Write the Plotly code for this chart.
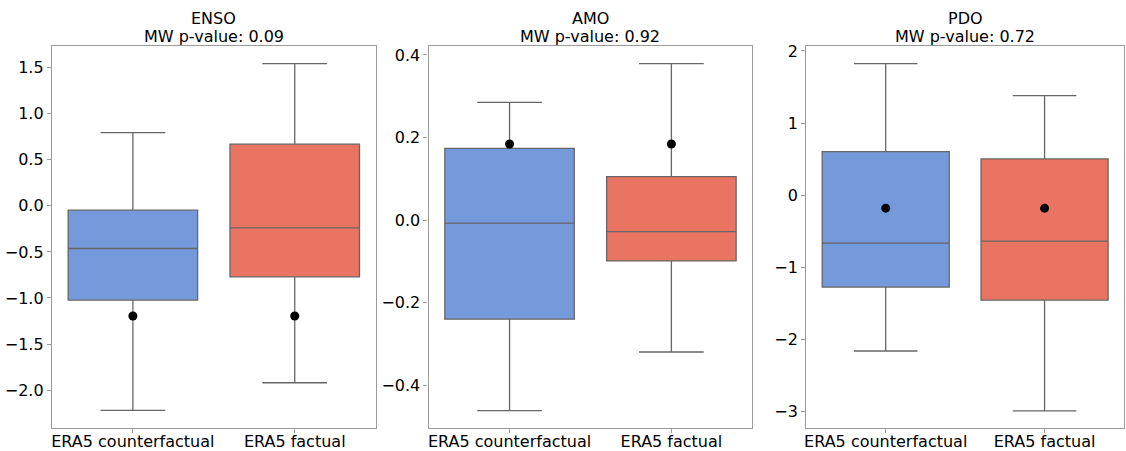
import plotly.graph_objects as go

categories = ["ERA5 counterfactual", "ERA5 factual"]
panels = ["ENSO", "AMO", "PDO"]
pvalues = ["0.09", "0.92", "0.72"]

# per panel: [counterfactual, factual]
lower = {"ENSO": [-2.22, -1.92], "AMO": [-0.461, -0.319], "PDO": [-2.16, -2.99]}
q1 = {"ENSO": [-1.023, -0.770], "AMO": [-0.2395, -0.0985], "PDO": [-1.274, -1.454]}
median = {"ENSO": [-0.463, -0.239], "AMO": [-0.0073, -0.0276], "PDO": [-0.665, -0.637]}
q3 = {"ENSO": [-0.047, 0.669], "AMO": [0.174, 0.1055], "PDO": [0.604, 0.503]}
upper = {"ENSO": [0.795, 1.543], "AMO": [0.2854, 0.379], "PDO": [1.823, 1.379]}
obs = {"ENSO": -1.196, "AMO": 0.1846, "PDO": -0.18}

y_ranges = {"ENSO": [-2.411, 1.735], "AMO": [-0.503, 0.4217], "PDO": [-3.227, 2.068]}
y_dtick = {"ENSO": 0.5, "AMO": 0.2, "PDO": 1}
y_format = {"ENSO": ".1f", "AMO": ".1f", "PDO": "d"}

fill_colors = ["#749ADB", "#E87461"]
line_color = "#666666"
frame_color = "#9a9a9a"
W, H = 1126, 451
domains_px = [(52, 376), (429, 753), (807, 1125)]

fig = go.Figure()
font = dict(family="DejaVu Sans", size=16, color="black")

for i, p in enumerate(panels):
    xa = "x" if i == 0 else f"x{i+1}"
    ya = "y" if i == 0 else f"y{i+1}"
    for j, c in enumerate(categories):
        fig.add_trace(go.Box(
            x=[c], q1=[q1[p][j]], median=[median[p][j]], q3=[q3[p][j]],
            lowerfence=[lower[p][j]], upperfence=[upper[p][j]],
            fillcolor=fill_colors[j], line=dict(color=line_color, width=1.3),
            width=0.8, whiskerwidth=0.5, boxpoints=False,
            xaxis=xa, yaxis=ya, showlegend=False, hoverinfo="skip",
        ))
    fig.add_trace(go.Scatter(
        x=categories, y=[obs[p]] * len(categories), mode="markers",
        marker=dict(color="black", size=9), xaxis=xa, yaxis=ya,
        showlegend=False, hoverinfo="skip",
    ))
    d0, d1 = domains_px[i]
    axis_common = dict(showline=True, linecolor=frame_color, linewidth=1.3, mirror=True,
                       showgrid=False, zeroline=False, ticks="outside", ticklen=4,
                       tickcolor=frame_color, tickfont=font, automargin=False)
    fig.layout[f"xaxis{'' if i == 0 else i+1}"] = dict(
        domain=[d0 / W, d1 / W], anchor=ya, type="category", ticklabelstandoff=-5,
        categoryorder="array", categoryarray=categories, range=[-0.5, 1.5], **axis_common)
    fig.layout[f"yaxis{'' if i == 0 else i+1}"] = dict(
        domain=[0, 1], anchor=xa, range=y_ranges[p], dtick=y_dtick[p], tick0=0,
        tickformat=y_format[p], **axis_common)
    cx = (d0 + d1) / 2 / W
    fig.add_annotation(x=cx, y=1, xref="paper", yref="paper", xanchor="center", yanchor="middle",
                       yshift=28, showarrow=False, text=p, font=font)
    fig.add_annotation(x=cx, y=1, xref="paper", yref="paper", xanchor="center", yanchor="middle",
                       yshift=10, showarrow=False, text=f"MW p-value: {pvalues[i]}", font=font)

fig.update_layout(
    width=W, height=H, margin=dict(l=0, r=1, t=46, b=23, autoexpand=False),
    paper_bgcolor="white", plot_bgcolor="white", font=font, boxmode="overlay",
)
fig.write_html("out.html", config={"displayModeBar": False},
               post_script="document.body.style.margin='0';document.body.style.overflow='hidden';")
